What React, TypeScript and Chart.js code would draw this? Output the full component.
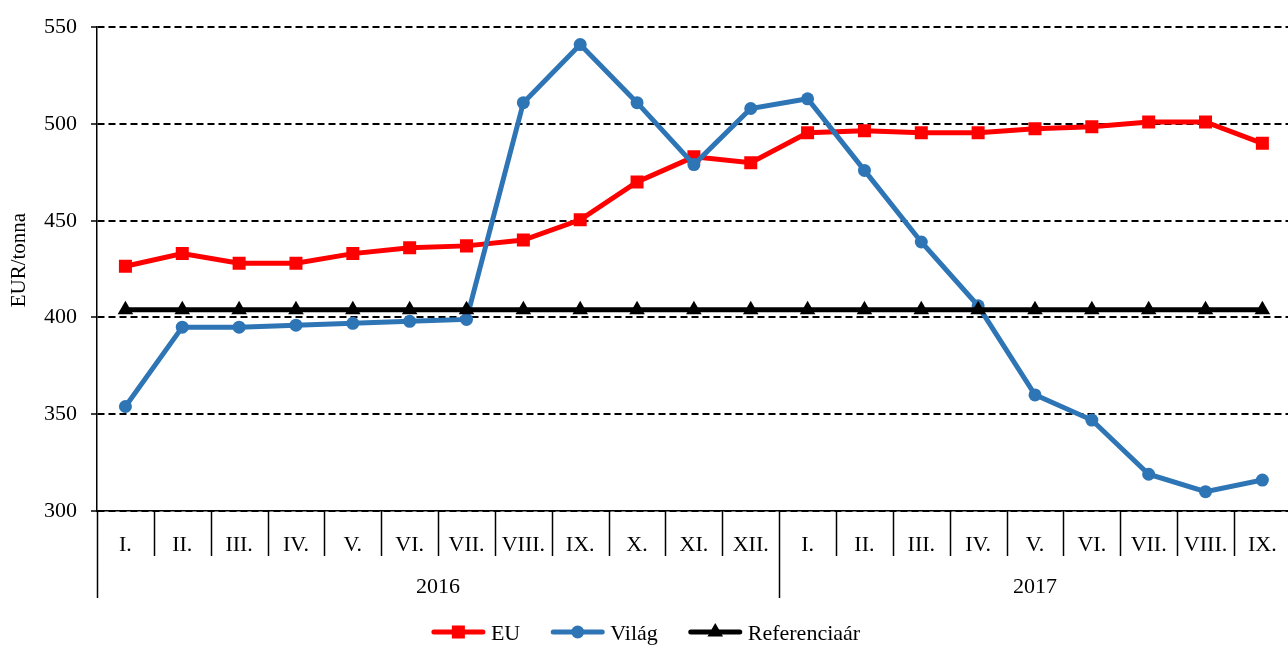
import React, { useEffect, useRef } from "react";
import { Chart, registerables } from "chart.js";

Chart.register(...registerables);

const months = [
  "I.", "II.", "III.", "IV.", "V.", "VI.", "VII.", "VIII.", "IX.", "X.", "XI.", "XII.",
  "I.", "II.", "III.", "IV.", "V.", "VI.", "VII.", "VIII.", "IX.",
];
const years = ["2016", "2017"];
const monthsPerYear = [12, 9];

const euValues = [426.5, 433, 428, 428, 433, 436, 437, 440, 450.5, 470, 483, 480, 495.5, 496.5, 495.5, 495.5, 497.5, 498.5, 501, 501, 490];
const vilagValues = [354, 395, 395, 396, 397, 398, 399, 511, 541, 511, 479, 508, 513, 476, 439, 406, 360, 347, 319, 310, 316];
const referenceValues = [404, 404, 404, 404, 404, 404, 404, 404, 404, 404, 404, 404, 404, 404, 404, 404, 404, 404, 404, 404, 404];

const yTitle = "EUR/tonna";
const FONT = '"Liberation Serif", "Times New Roman", serif';

function drawMarker(ctx: CanvasRenderingContext2D, style: string, x: number, y: number, r: number, color: string) {
  ctx.save();
  ctx.fillStyle = color;
  ctx.beginPath();
  if (style === "rect") {
    const s = Math.SQRT1_2 * r;
    ctx.rect(x - s, y - s, 2 * s, 2 * s);
  } else if (style === "triangle") {
    ctx.moveTo(x, y - r);
    ctx.lineTo(x + r * Math.sin(Math.PI * 2 / 3), y - r * Math.cos(Math.PI * 2 / 3));
    ctx.lineTo(x + r * Math.sin(Math.PI * 4 / 3), y - r * Math.cos(Math.PI * 4 / 3));
    ctx.closePath();
  } else {
    ctx.arc(x, y, r, 0, Math.PI * 2);
  }
  ctx.fill();
  ctx.restore();
}

const decorPlugin = {
  id: "decor",
  afterDraw(chart: any) {
    const { ctx, chartArea } = chart;
    const x = chart.scales.x;
    const bottom = chartArea.bottom;
    ctx.save();
    ctx.strokeStyle = "#000";
    ctx.fillStyle = "#000";
    ctx.lineWidth = 1.5;
    ctx.font = `22px ${FONT}`;
    ctx.textAlign = "center";
    ctx.textBaseline = "alphabetic";

    // month labels
    months.forEach((m, i) => {
      ctx.fillText(m, x.getPixelForValue(i), bottom + 40);
    });

    // group boundaries
    const groupStarts: number[] = [0];
    monthsPerYear.forEach((n, gi) => groupStarts.push(groupStarts[gi] + n));

    for (let i = 0; i <= months.length; i++) {
      const bx = Math.round(x.getPixelForValue(i - 0.5)) + 0.5;
      const isGroup = groupStarts.includes(i);
      ctx.beginPath();
      ctx.moveTo(bx, bottom);
      ctx.lineTo(bx, bottom + (isGroup ? 87 : 45));
      ctx.stroke();
    }

    // year labels
    years.forEach((yr, gi) => {
      const a = x.getPixelForValue(groupStarts[gi] - 0.5);
      const b = x.getPixelForValue(groupStarts[gi + 1] - 0.5);
      ctx.fillText(yr, (a + b) / 2, bottom + 82);
    });

    // y title
    ctx.save();
    ctx.translate(19, (chartArea.top + chartArea.bottom) / 2 - 9);
    ctx.rotate(-Math.PI / 2);
    ctx.textBaseline = "middle";
    ctx.font = `21px ${FONT}`;
    ctx.fillText(yTitle, 0, 0);
    ctx.restore();

    // legend
    const lineLen = 53;
    const gapText = 6;
    const gapItem = 31;
    const items = chart.data.datasets.map((ds: any) => ({
      label: ds.label,
      color: ds.borderColor,
      style: ds.pointStyle,
      r: ds.pointRadius,
      w: ctx.measureText(ds.label).width,
    }));
    const total = items.reduce((s: number, it: any) => s + lineLen + gapText + it.w, 0) + gapItem * (items.length - 1);
    let lx = 646 - total / 2;
    const ly = 632;
    ctx.textAlign = "left";
    items.forEach((it: any) => {
      ctx.strokeStyle = it.color;
      ctx.lineWidth = 5;
      ctx.lineCap = "round";
      ctx.beginPath();
      ctx.moveTo(lx + 2, ly);
      ctx.lineTo(lx + lineLen - 2, ly);
      ctx.stroke();
      drawMarker(ctx, it.style, lx + lineLen / 2, ly, it.r, it.color);
      ctx.fillStyle = "#000";
      ctx.fillText(it.label, lx + lineLen + gapText, 640);
      lx += lineLen + gapText + it.w + gapItem;
    });
    ctx.restore();
  },
};

export default function App() {
  const ref = useRef<HTMLCanvasElement>(null);

  useEffect(() => {
    document.body.style.margin = "0";
    if (!ref.current) return;
    const chart = new Chart(ref.current, {
      type: "line",
      data: {
        labels: months,
        datasets: [
          {
            label: "EU",
            data: euValues,
            borderColor: "#FF0000",
            backgroundColor: "#FF0000",
            borderWidth: 5,
            pointStyle: "rect",
            pointRadius: 9.2,
            pointBorderWidth: 0,
            order: 2,
          },
          {
            label: "Világ",
            data: vilagValues,
            borderColor: "#2E75B6",
            backgroundColor: "#2E75B6",
            borderWidth: 5,
            pointStyle: "circle",
            pointRadius: 6.5,
            pointBorderWidth: 0,
            order: 1,
          },
          {
            label: "Referenciaár",
            data: referenceValues,
            borderColor: "#000000",
            backgroundColor: "#000000",
            borderWidth: 5,
            pointStyle: "triangle",
            pointRadius: 9,
            pointBorderWidth: 0,
            order: 0,
          },
        ],
      },
      options: {
        animation: false,
        responsive: false,
        devicePixelRatio: 1,
        layout: { padding: { top: 25, right: 6, bottom: 0, left: 0 } },
        plugins: {
          legend: { display: false },
          tooltip: { enabled: false },
        },
        scales: {
          x: {
            type: "category",
            offset: true,
            grid: { display: false },
            border: { display: true, color: "#000", width: 1.5 },
            ticks: { display: false },
            afterFit: (s: any) => {
              s.height = 135;
            },
          },
          y: {
            min: 300,
            max: 550,
            ticks: {
              stepSize: 50,
              color: "#000",
              font: { family: FONT, size: 22 },
              padding: 14,
            },
            grid: { color: "#000", lineWidth: 2, tickLength: 6, tickColor: "#000", tickWidth: 1.5 },
            border: { display: true, color: "#000", width: 1.5, dash: [7, 4] },
            afterFit: (s: any) => {
              s.width = 97;
            },
          },
        },
      },
      plugins: [decorPlugin],
    });
    return () => chart.destroy();
  }, []);

  return (
    <div style={{ position: "fixed", left: 0, top: 0, width: 1288, height: 646, overflow: "hidden", background: "#fff" }}>
      <canvas ref={ref} width={1300} height={646} style={{ width: 1300, height: 646, display: "block" }} />
    </div>
  );
}
